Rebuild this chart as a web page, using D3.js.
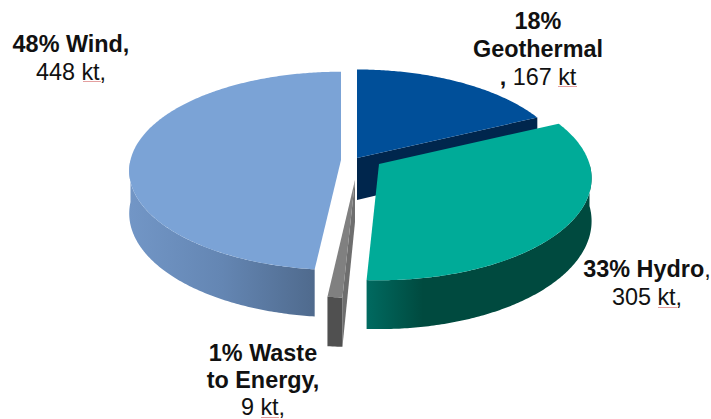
<!DOCTYPE html>
<html><head><meta charset="utf-8">
<script src="https://cdn.jsdelivr.net/npm/d3@7/dist/d3.min.js"></script>
<style>html,body{margin:0;padding:0;background:#fff}svg{display:block}text{font-family:"Liberation Sans",Arial,sans-serif;font-size:23.4px;fill:#111}.b{font-weight:700;font-size:23.4px}</style>
</head><body><svg id="c" width="711" height="419"></svg>
<script>
const categories = ["Geothermal","Hydro","Waste to Energy","Wind"];
const values = [167,305,9,448];
const percents = [18,33,1,48];
const topColors = ["#004f99","#00ab98","#808080","#7ba3d6"];
const cutColors = ["#00264d","#004a3f","#6e6e6e","#6285b2"];
const wallStops = [["#00264d","#00264d"],["#004a3f","#004a3f","#006a60"],["#505050","#505050"],["#7296c6","#6486b3","#4f6a8d"]];

// layout of the exploded slices
const apex = [[357,158],[379,164],[355,180],[341,160]];
const persp = [0.13,0.14,0.15,0.11];
const depthY = [100,100,100,98];
const RX=210.5, DEPTH=42;

const svg=d3.select("#c"), defs=svg.append("defs");
const arcs=d3.pie().sort(null).value(d=>d)(values);
const unit=d3.scaleLinear().domain([0,1]);
function project(i,a,r=1,low=false){
  const u=Math.sin(a)*r, v=-Math.cos(a)*r, s=1/(1-persp[i]*v);
  return [apex[i][0]+RX*u*s, apex[i][1]+depthY[i]*v*s+(low?DEPTH*s:0)];
}
function rim(i,a0,a1,low){
  const n=Math.max(2,Math.ceil((a1-a0)*90));
  return d3.range(n+1).map(k=>project(i,unit.range([a0,a1])(k/n),1,low));
}
const line=d3.line();
const cutAngle=[a=>a.endAngle,null,a=>a.startAngle,a=>a.endAngle];
[3,0,2,1].forEach(i=>{
  const {startAngle:a0,endAngle:a1}=arcs[i];
  const g=svg.append("g").attr("class","slice").attr("data-name",categories[i]);
  const A=project(i,0,0,false), Al=project(i,0,0,true);
  if(cutAngle[i]){
    const a=cutAngle[i](arcs[i]);
    g.append("path").attr("d",line([A,project(i,a,1,false),project(i,a,1,true),Al])+"Z").attr("fill",cutColors[i]);
  }
  const f0=Math.max(a0,Math.PI/2), f1=Math.min(a1,Math.PI*1.5);
  if(f1>f0){
    const id="w"+i, top=rim(i,f0,f1,false), low=rim(i,f0,f1,true);
    const xs=top.map(p=>p[0]);
    const grad=defs.append("linearGradient").attr("id",id).attr("gradientUnits","userSpaceOnUse")
      .attr("x1",i===3?d3.min(xs):d3.max(xs)).attr("x2",i===3?d3.max(xs):d3.min(xs)).attr("y1",0).attr("y2",0);
    wallStops[i].forEach((c,k,arr)=>grad.append("stop").attr("offset",i===1?[0,.75,1][k]:k/(arr.length-1)).attr("stop-color",c));
    g.append("path").attr("d",line(top.concat(low.reverse()))+"Z").attr("fill",`url(#${id})`);
  }
  g.append("path").attr("d",line([A].concat(rim(i,a0,a1,false)))+"Z").attr("fill",topColors[i]);
});

const labels=[
 {cx:71,lines:[[["48% Wind,",1]],[["448 kt,",0]]],ys:[52,80]},
 {cx:538,lines:[[["18%",1]],[["Geothermal",1]],[[", ",1],["167 kt",0]]],ys:[29,57,85]},
 {cx:647,lines:[[["33% Hydro",1],[",",0]],[["305 kt,",0]]],ys:[277,305]},
 {cx:263,lines:[[["1% Waste",1]],[["to Energy,",1]],[["9 kt,",0]]],ys:[361,388,415]}
];
labels.forEach(l=>l.lines.forEach((ln,k)=>{
  const t=svg.append("text").attr("x",l.cx).attr("y",l.ys[k]).attr("text-anchor","middle");
  ln.forEach(([s,b])=>t.append("tspan").attr("class",b?"b":null).text(s));
}));
[[83,101,81.5],[558,577,86.5],[658,677,307.5],[261,279,417.5]].forEach(([a,b,y])=>svg.append("path").attr("d",`M${a},${y}H${b}`).attr("stroke","#e4a0a0").attr("stroke-width",1).attr("fill","none"));
</script></body></html>
